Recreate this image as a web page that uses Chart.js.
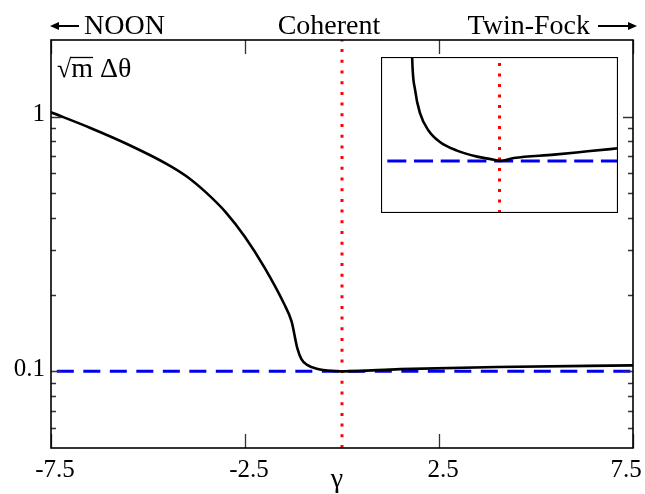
<!DOCTYPE html>
<html>
<head>
<meta charset="utf-8">
<script src="https://cdn.jsdelivr.net/npm/chart.js@4/dist/chart.umd.min.js"></script>
<style>
  html, body { margin: 0; padding: 0; background: #fff; }
  #wrap { position: relative; width: 645px; height: 494px; }
  #main { position: absolute; left: 0; top: 0; }
  #inset { position: absolute; left: 381px; top: 57px; }
</style>
</head>
<body>
<div id="wrap">
  <canvas id="main" width="645" height="494"></canvas>
  <canvas id="inset" width="237" height="156"></canvas>
</div>
<script>
// ── Data ─────────────────────────────────────────────────────
const gamma      = [-7.5, -6.5, -5.5, -4.5, -4.0, -3.5, -3.0, -2.5, -2.0, -1.5, -1.3, -1.15, -1.05, -0.9, -0.6, -0.3, 0, 1.5, 4.0, 7.5];
const deltaTheta = [1.04, 0.905, 0.776, 0.650, 0.582, 0.503, 0.422, 0.337, 0.256, 0.185, 0.157, 0.123, 0.112, 0.106, 0.102, 0.1005, 0.100, 0.102, 0.104, 0.1055];

const insetGamma = [-1.11, -1.106, -1.068, -1.004, -0.899, -0.750, -0.538, -0.284, -0.072, 0, 0.182, 0.690, 1.115, 1.5];
const insetTheta = [0.1115, 0.1100, 0.10681, 0.10455, 0.10294, 0.10180, 0.10100, 0.10042, 0.10013, 0.1000, 0.10029, 0.10061, 0.10093, 0.10122];

const sqlLevel   = 0.1;          // shot-noise limit (blue dashed)
const coherentAt = 0;            // coherent state (red dotted)

const xTicks      = [-7.5, -2.5, 2.5, 7.5];
const xTickLabels = ['-7.5', '-2.5', '2.5', '7.5'];
const yTicks      = [0.1, 1];
const yTickLabels = ['0.1', '1'];
const yMinor      = [0.06, 0.07, 0.08, 0.09, 0.2, 0.3, 0.4, 0.5, 0.6, 0.7, 0.8, 0.9];

const SERIF = '"Liberation Serif", "Times New Roman", "DejaVu Serif", serif';
const BLUE  = '#0000ee';
const RED   = '#ff0000';

const pts = (xs, ys) => xs.map((x, i) => ({ x, y: ys[i] }));

// ── Main frame, inward ticks and texts ───────────────────────
const framePlugin = {
    id: 'frame',
    afterDraw(chart) {
        const { ctx, chartArea: a, scales: { x, y } } = chart;
        ctx.save();

        // ticks
        ctx.strokeStyle = '#333';
        ctx.lineWidth = 1.3;
        ctx.beginPath();
        xTicks.forEach(v => {
            const px = Math.round(x.getPixelForValue(v)) + 0.5;
            ctx.moveTo(px, a.bottom); ctx.lineTo(px, a.bottom - 14);
            ctx.moveTo(px, a.top);    ctx.lineTo(px, a.top + 14);
        });
        yTicks.forEach(v => {
            const py = Math.round(y.getPixelForValue(v)) + 0.5;
            ctx.moveTo(a.left, py);  ctx.lineTo(a.left + 10, py);
            ctx.moveTo(a.right, py); ctx.lineTo(a.right - 10, py);
        });
        yMinor.forEach(v => {
            const py = Math.round(y.getPixelForValue(v)) + 0.5;
            ctx.moveTo(a.left, py);  ctx.lineTo(a.left + 5, py);
            ctx.moveTo(a.right, py); ctx.lineTo(a.right - 5, py);
        });
        ctx.stroke();

        // frame
        ctx.strokeStyle = '#000';
        ctx.lineWidth = 1.6;
        ctx.strokeRect(a.left, a.top, a.right - a.left, a.bottom - a.top);

        // tick labels
        ctx.fillStyle = '#000';
        ctx.font = '25px ' + SERIF;
        ctx.textAlign = 'center';
        ctx.textBaseline = 'alphabetic';
        xTicks.forEach((v, i) => {
            const px = Math.min(x.getPixelForValue(v) + 4, 626);
            ctx.fillText(xTickLabels[i], px, 477);
        });
        ctx.textAlign = 'right';
        ctx.textBaseline = 'middle';
        yTicks.forEach((v, i) => {
            ctx.fillText(yTickLabels[i], 45, y.getPixelForValue(v) - 2);
        });

        // axis titles
        ctx.textAlign = 'center';
        ctx.textBaseline = 'alphabetic';
        ctx.font = '28px ' + SERIF;
        ctx.fillText('γ', 337, 487);

        ctx.textAlign = 'left';
        ctx.font = '26px ' + SERIF;
        const rad = ctx.measureText('√').width;
        ctx.fillText('√', 57, 77);
        ctx.font = '28px ' + SERIF;
        const mw  = ctx.measureText('m').width;
        ctx.fillText('m', 57 + rad, 77);
        ctx.fillText('Δθ', 57 + rad + mw + 7, 77);
        ctx.lineWidth = 1.3;
        ctx.beginPath();
        ctx.moveTo(57 + rad - 1, 57.5); ctx.lineTo(57 + rad + mw, 57.5);
        ctx.stroke();

        // regime labels along the top
        ctx.font = '28px ' + SERIF;
        ctx.textAlign = 'left';
        ctx.fillText('NOON', 84, 34);
        ctx.textAlign = 'center';
        ctx.fillText('Coherent', 329, 34);
        ctx.textAlign = 'right';
        ctx.fillText('Twin-Fock', 590, 34);

        const arrow = (x0, x1, yy) => {
            const dir = Math.sign(x1 - x0);
            ctx.lineWidth = 2;
            ctx.beginPath();
            ctx.moveTo(x0, yy); ctx.lineTo(x1 - dir * 6, yy);
            ctx.stroke();
            ctx.beginPath();
            ctx.moveTo(x1, yy);
            ctx.lineTo(x1 - dir * 9, yy - 4);
            ctx.lineTo(x1 - dir * 9, yy + 4);
            ctx.closePath();
            ctx.fill();
        };
        arrow(79, 50, 26);
        arrow(598, 637, 26);

        ctx.restore();
    }
};

new Chart(document.getElementById('main'), {
    type: 'line',
    data: {
        datasets: [
            {
                data: pts(gamma, deltaTheta),
                borderColor: '#000',
                borderWidth: 2.6,
                pointRadius: 0,
                cubicInterpolationMode: 'monotone',
                order: 0,
            },
            {
                data: pts([-7.35, 7.5], [sqlLevel, sqlLevel]),
                borderColor: BLUE,
                borderWidth: 3,
                borderDash: [17, 9.5],
                pointRadius: 0,
                order: 1,
            },
            {
                data: pts([coherentAt, coherentAt], [0.05, 2]),
                borderColor: RED,
                borderWidth: 3,
                borderDash: [3, 7.7],
                pointRadius: 0,
                order: 2,
            },
        ],
    },
    options: {
        responsive: false,
        animation: false,
        devicePixelRatio: 1,
        layout: { padding: { left: 51, right: 12, top: 40, bottom: 46 } },
        plugins: { legend: { display: false }, tooltip: { enabled: false } },
        scales: {
            x: { type: 'linear', min: -7.5, max: 7.5, display: false },
            y: { type: 'logarithmic', min: 0.05, max: 2, display: false },
        },
    },
    plugins: [framePlugin],
});

// ── Inset: zoom around the coherent point ────────────────────
const insetPlugin = {
    id: 'insetFrame',
    beforeDraw(chart) {
        const { ctx, width, height } = chart;
        ctx.save();
        ctx.fillStyle = '#fff';
        ctx.fillRect(0, 0, width, height);
        ctx.restore();
    },
    afterDraw(chart) {
        const { ctx, width, height } = chart;
        ctx.save();
        ctx.strokeStyle = '#000';
        ctx.lineWidth = 1.2;
        ctx.strokeRect(0.5, 0.5, width - 1, height - 1);
        ctx.restore();
    }
};

new Chart(document.getElementById('inset'), {
    type: 'line',
    data: {
        datasets: [
            {
                data: pts(insetGamma, insetTheta),
                borderColor: '#000',
                borderWidth: 2.6,
                pointRadius: 0,
                cubicInterpolationMode: 'monotone',
                order: 0,
            },
            {
                data: pts([-1.42, 1.5], [sqlLevel, sqlLevel]),
                borderColor: BLUE,
                borderWidth: 3,
                borderDash: [19, 7.7],
                pointRadius: 0,
                order: 1,
            },
            {
                data: pts([coherentAt, coherentAt], [0.095, 0.1095]),
                borderColor: RED,
                borderWidth: 3,
                borderDash: [3, 7.5],
                pointRadius: 0,
                order: 2,
            },
        ],
    },
    options: {
        responsive: false,
        animation: false,
        devicePixelRatio: 1,
        layout: { padding: 0 },
        plugins: { legend: { display: false }, tooltip: { enabled: false } },
        scales: {
            x: { type: 'linear', min: -1.5, max: 1.5, display: false },
            y: { type: 'linear', min: 0.095, max: 0.11, display: false },
        },
    },
    plugins: [insetPlugin],
});
</script>
</body>
</html>
